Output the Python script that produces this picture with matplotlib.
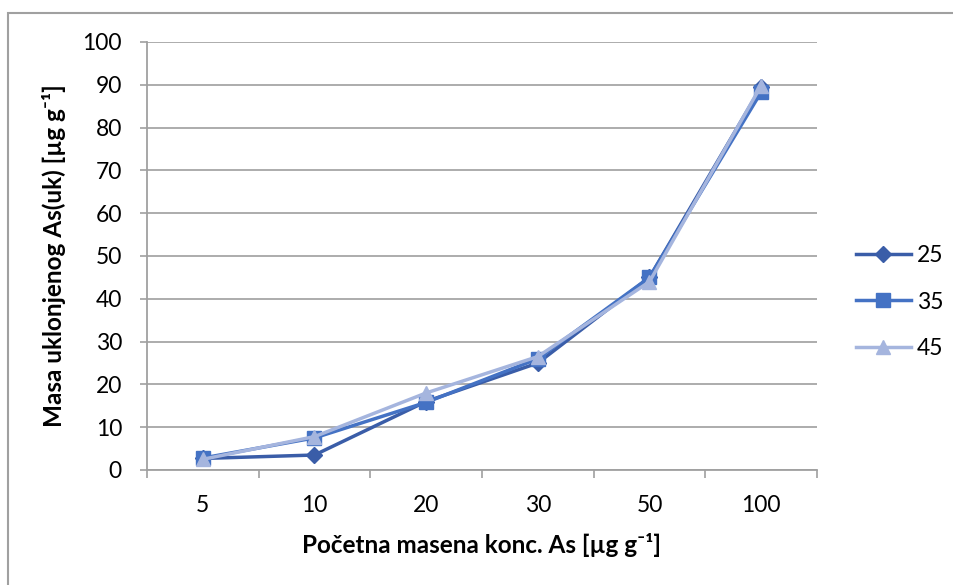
import matplotlib.pyplot as plt
from matplotlib.patches import Rectangle

# data
categories = ["5", "10", "20", "30", "50", "100"]
series_names = ["25", "35", "45"]
s25 = [2.7, 3.5, 16.0, 25.0, 45.0, 89.5]
s35 = [2.8, 7.5, 15.8, 26.0, 45.0, 88.3]
s45 = [2.5, 7.8, 18.0, 26.5, 44.0, 89.8]

colors = ["#3A5DA8", "#4472C4", "#A5B5DE"]
markers = ["D", "s", "^"]
msizes = [8, 10, 10]

plt.rcParams['font.family'] = ['Lato', 'DejaVu Sans']

fig = plt.figure(figsize=(9.54, 5.85), dpi=100)
ax = fig.add_axes([147/954, 1 - 470/585, (817-147)/954, (470-42)/585])

x = list(range(len(categories)))
for vals, name, c, m, ms in zip([s25, s35, s45], series_names, colors, markers, msizes):
    ax.plot(x, vals, color=c, marker=m, markersize=ms, linewidth=2.5, label=name)

ax.set_xlim(-0.5, len(categories) - 0.5)
ax.set_ylim(0, 100)
ax.set_yticks(range(0, 101, 10))
ax.set_xticks(x)
ax.set_xticklabels(categories)
ax.set_xticks([i - 0.5 for i in range(len(categories) + 1)], minor=True)
ax.tick_params(axis='x', which='major', length=0, labelsize=16.5, pad=18)
ax.tick_params(axis='x', which='minor', length=6, width=1.2, color="#A0A0A0")
ax.tick_params(axis='y', length=5, width=1.2, color="#A0A0A0", labelsize=16.5, pad=13)
ax.grid(axis='y', color="#A6A6A6", linewidth=1.3)
ax.set_axisbelow(True)
for sp in ["top", "right"]:
    ax.spines[sp].set_visible(False)
for sp in ["left", "bottom"]:
    ax.spines[sp].set_color("#A0A0A0")
    ax.spines[sp].set_linewidth(1.3)

ax.set_xlabel("Početna masena konc. As [µg g⁻¹]", fontsize=17.5, fontweight='bold', labelpad=12)
ax.set_ylabel("Masa uklonjenog As(uk) [µg g⁻¹]", fontsize=17.5, fontweight='bold', labelpad=12)

ax.legend(loc='center left', bbox_to_anchor=(856/954, 1 - 302/585), bbox_transform=fig.transFigure,
          borderaxespad=0, borderpad=0, frameon=False, fontsize=16.5,
          handlelength=2.4, labelspacing=1.1, handletextpad=0.25)

# outer chart border
fig.patches.append(Rectangle((8/954, -0.1), 1.2, 1 - 13/585 + 0.1, transform=fig.transFigure,
                             fill=False, edgecolor="#A0A0A0", linewidth=1.5))

fig.savefig("out.png", dpi=100)
